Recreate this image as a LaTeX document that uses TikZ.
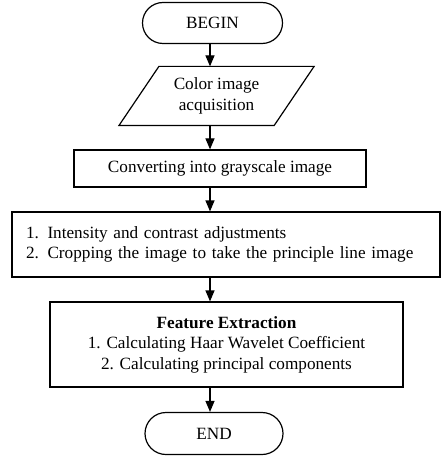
\documentclass[tikz,border=0pt]{standalone}
\usepackage{fontspec}
\setmainfont{Liberation Serif}
\usetikzlibrary{shapes.misc,arrows.meta}

\begin{document}
\begin{tikzpicture}[x=1pt,y=1pt,line width=1.2pt,
    font=\fontsize{17.2}{20.5}\selectfont,
    term/.style={draw, rounded rectangle, minimum width=140pt, minimum height=41pt, inner sep=0pt},
    io/.style={rectangle, minimum width=154pt, minimum height=58pt, inner sep=0pt, align=center},
    proc/.style={draw, rectangle, inner sep=0pt},
    flow/.style={-{Triangle[width=9pt,length=11pt]}}]
  \useasboundingbox (0,0) rectangle (441,-457);
  \node[term] (begin) at (212.5,-23) {BEGIN};
  \node[io] (acq) at (216.5,-96) {Color image\\acquisition};
  \draw ([xshift=20pt]acq.north west) -- ([xshift=20pt]acq.north east)
    -- ([xshift=-20pt]acq.south east) -- ([xshift=-20pt]acq.south west) -- cycle;
  \node[proc, minimum width=292pt, minimum height=37pt] (gray) at (220,-168.5) {Converting into grayscale image};
  \node[proc, minimum height=65pt, text width=400pt, inner xsep=14pt, align=left] (pre) at (226,-244.5)
    {1. Intensity and contrast adjustments\\2. Cropping the image to take the principle line image};
  \node[proc, minimum width=353pt, minimum height=85pt, align=center] (feat) at (226.5,-344.5)
    {\textbf{Feature Extraction}\\1. Calculating Haar Wavelet Coefficient\\2. Calculating principal components};
  \node[term, minimum width=138pt, minimum height=42pt] (finish) at (214,-433.5) {END};
  \coordinate (axis) at (210,0);
  \draw[flow] (axis |- begin.south) -- (axis |- acq.north);
  \draw[flow] (axis |- acq.south) -- (axis |- gray.north);
  \draw[flow] (axis |- gray.south) -- (axis |- pre.north);
  \draw[flow] (axis |- pre.south) -- (axis |- feat.north);
  \draw[flow] (axis |- feat.south) -- (axis |- finish.north);
\end{tikzpicture}
\end{document}
